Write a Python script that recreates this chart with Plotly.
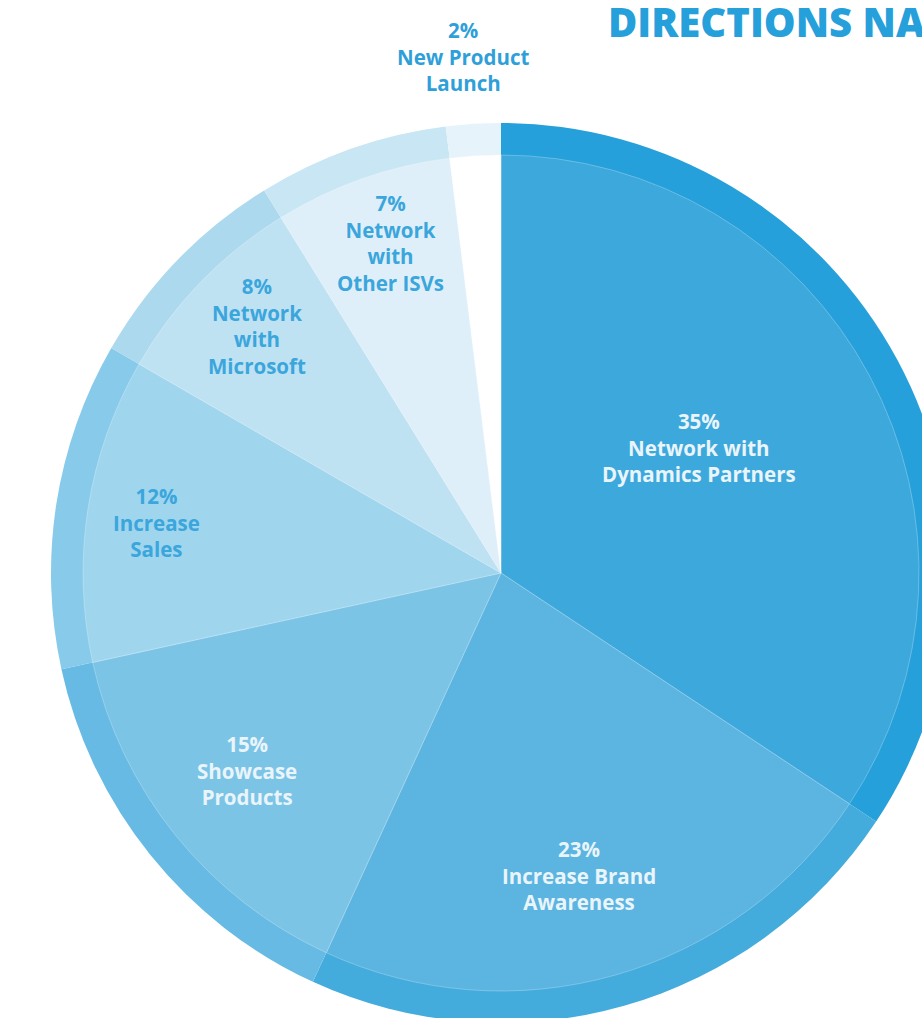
import plotly.graph_objects as go

# ---- data ----
categories = ["Network with Dynamics Partners", "Increase Brand Awareness", "Showcase Products",
              "Increase Sales", "Network with Microsoft", "Network with Other ISVs", "New Product Launch"]
label_lines = [["Network with", "Dynamics Partners"], ["Increase Brand", "Awareness"], ["Showcase", "Products"],
               ["Increase", "Sales"], ["Network", "with", "Microsoft"], ["Network", "with", "Other ISVs"],
               ["New Product", "Launch"]]
values = [35, 23, 15, 12, 8, 7, 2]
title_text = "DIRECTIONS NA"

# ---- styles ----
inner_colors = ["#3da8dc", "#5cb4e0", "#7cc4e6", "#a0d5ee", "#bfe2f3", "#dfeff9", "#ffffff"]
ring_colors = ["#26a0da", "#44acdd", "#66bae4", "#88caea", "#acd9ee", "#c8e6f3", "#e6f3fa"]
text_colors = ["#eaf5fb", "#eaf5fb", "#eaf5fb", "#3aa6dc", "#3aa6dc", "#3aa6dc", "#2f9fd9"]
label_px = [(699, 447), (579, 875), (247, 770), (156, 522), (257, 326), (390, 243), (463, 57)]

W, H = 960, 1030
FONT = "Open Sans"


def dom(x0, x1, y0, y1):
    return dict(x=[x0 / W, x1 / W], y=[1 - y1 / H, 1 - y0 / H])


fig = go.Figure()
# outer ring (full pie, darker)
fig.add_trace(go.Pie(
    labels=categories, values=values, sort=False, direction="clockwise", rotation=0,
    marker=dict(colors=ring_colors, line=dict(width=0)),
    textinfo="none", hoverinfo="label+value", showlegend=False,
    domain=dom(51, 951, 123, 1023),
))
# inner pie (lighter)
fig.add_trace(go.Pie(
    labels=categories, values=values, sort=False, direction="clockwise", rotation=0,
    marker=dict(colors=inner_colors, line=dict(width=1, color="rgba(255,255,255,0.25)")),
    textinfo="none", hoverinfo="label+value", showlegend=False,
    domain=dom(83, 919, 155, 991),
))

annotations = []
for v, lines, col, (px, py) in zip(values, label_lines, text_colors, label_px):
    txt = "<br>".join([f"{v}%"] + lines)
    annotations.append(dict(
        text=txt, x=px / W, y=1 - py / H, xref="paper", yref="paper",
        xanchor="center", yanchor="middle", showarrow=False, align="center",
        font=dict(family=FONT, size=20.5, color=col, weight=700),
    ))
annotations.append(dict(
    text=title_text, x=606 / W, y=1 - 21 / H, xref="paper", yref="paper",
    xanchor="left", yanchor="middle", showarrow=False,
    font=dict(family=FONT, size=40, color="#26a0da", weight=800),
))

fig.update_layout(
    width=W, height=H, margin=dict(l=0, r=0, t=0, b=0),
    paper_bgcolor="white", plot_bgcolor="white",
    annotations=annotations, showlegend=False,
)

fig.write_html("out.html", config={"displayModeBar": False},
               post_script="document.body.style.margin='0';document.body.style.overflow='hidden';")
